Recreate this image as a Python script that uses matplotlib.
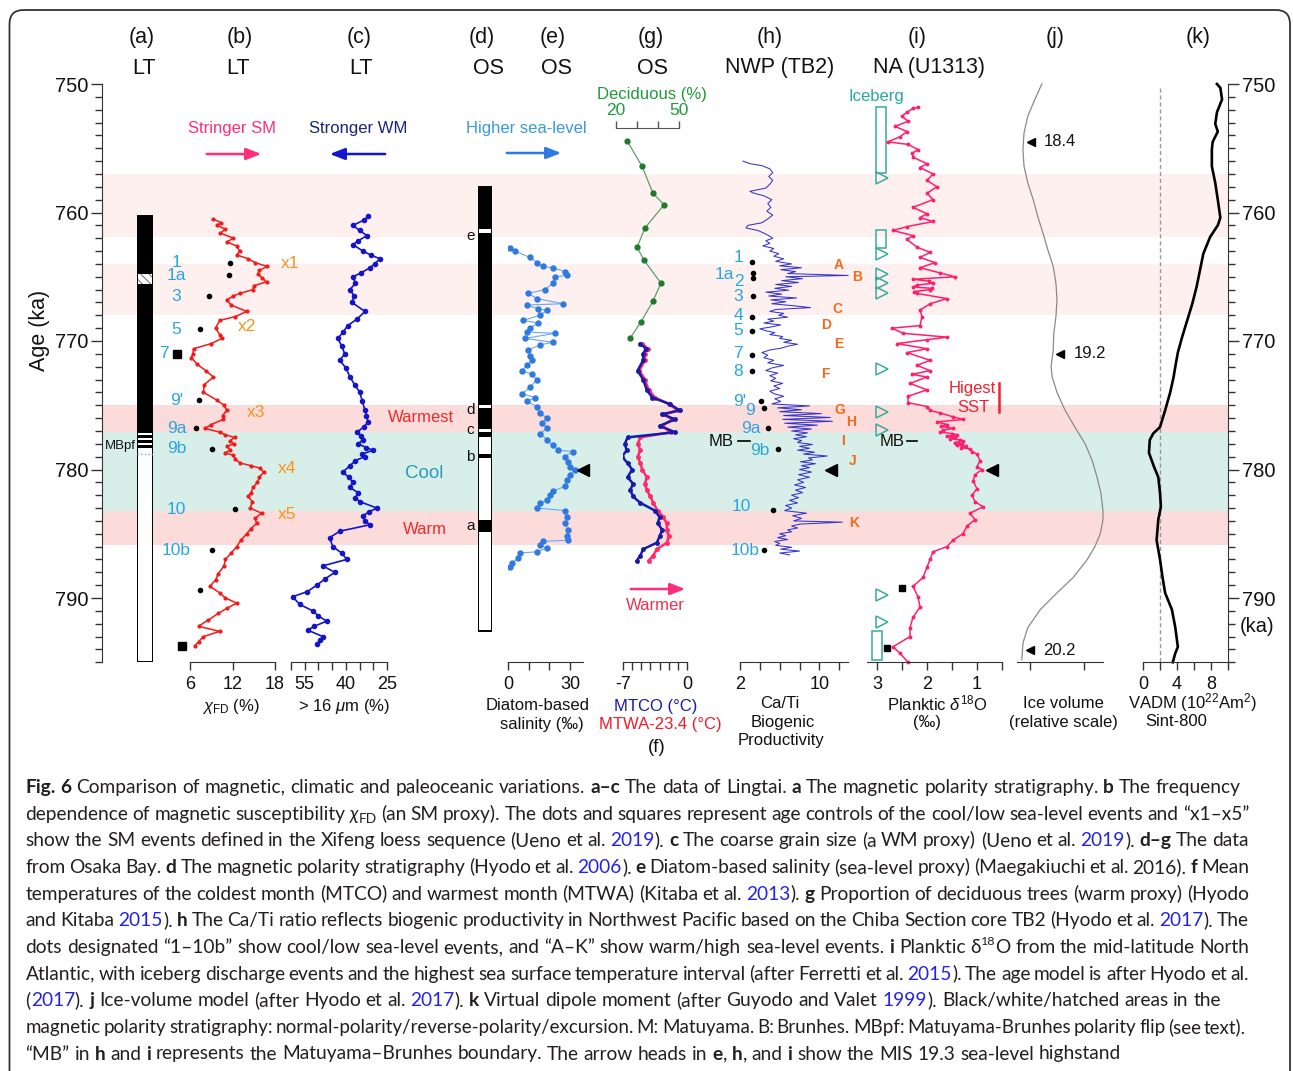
import re
import numpy as np
import matplotlib.pyplot as plt
from matplotlib.patches import FancyBboxPatch, Rectangle

plt.rcParams['font.family'] = ['Liberation Sans', 'DejaVu Sans']
plt.rcParams['mathtext.fontset'] = 'custom'
plt.rcParams['mathtext.rm'] = 'Liberation Sans'
plt.rcParams['mathtext.it'] = 'Liberation Sans:italic'
plt.rcParams['axes.edgecolor'] = '#333333'
plt.rcParams['xtick.color'] = '#333333'
plt.rcParams['ytick.color'] = '#333333'
plt.rcParams['hatch.linewidth'] = 0.6

W, H = 1293, 1071

# ---------------- data (age in ka) ----------------
band_lo = [757.0, 764.0, 775.0, 777.1, 783.2]
band_hi = [761.9, 768.0, 777.1, 783.2, 785.9]
band_col = ['#fdf0ee', '#fdf0ee', '#fcdcdb', '#d7efe8', '#fcdcdb']

# (a) Lingtai polarity column
a_top, a_bot = 760.3, 795.0
a_black = [(760.3, 777.15), (777.3, 777.55), (777.7, 777.95), (778.1, 778.35)]
a_hatch = (764.8, 765.6)

# (b) chi_FD (%)
b_age = [760.5, 760.8, 761.0, 761.3, 761.6, 762.0, 762.3, 762.6, 763.0, 763.3, 763.6, 763.9,
         764.2, 764.5, 764.8, 765.1, 765.4, 765.7, 766.0, 766.3, 766.5, 766.8, 767.2, 767.7,
         768.1, 768.4, 769.0, 769.5, 769.8, 770.2, 770.6, 771.0, 771.3, 771.8, 772.3, 772.8,
         773.4, 774.0, 774.6, 775.0, 775.4, 775.8, 776.1, 776.5, 776.8, 777.1, 777.3, 777.5,
         777.8, 778.0, 778.2, 778.5, 778.7, 778.9, 779.2, 779.5, 779.7, 779.9, 780.2, 780.6,
         781.0, 781.4, 781.8, 782.1, 782.5, 783.0, 783.4, 783.8, 784.2, 784.6, 785.0, 785.5,
         786.0, 786.5, 787.0, 787.5, 788.1, 788.6, 789.1, 789.6, 790.0, 790.4, 790.8, 791.2,
         791.7, 792.2, 792.6, 793.0, 793.4, 793.7]
b_val = [9.3, 10.4, 9.8, 11.0, 10.3, 12.1, 11.2, 12.6, 13.0, 12.6, 14.2, 15.2,
         16.9, 15.8, 15.6, 16.2, 16.8, 15.0, 14.9, 13.0, 12.1, 11.2, 11.8, 14.0,
         12.4, 10.2, 9.6, 10.2, 10.5, 9.0, 6.5, 6.4, 6.2, 7.0, 8.2, 9.3,
         8.0, 7.9, 9.8, 10.8, 11.2, 10.6, 10.7, 9.0, 8.1, 10.2, 11.0, 12.3,
         11.6, 12.2, 11.2, 11.7, 11.0, 12.1, 12.4, 13.1, 14.6, 15.9, 16.4, 15.8,
         15.5, 14.9, 14.6, 14.2, 14.8, 14.5, 16.1, 15.2, 15.4, 14.6, 14.0, 13.2,
         12.6, 11.8, 11.0, 10.8, 10.0, 9.6, 8.8, 10.2, 11.0, 12.6, 11.2, 10.0,
         8.6, 7.2, 10.2, 7.9, 7.2, 6.7]
b_evt_name = ['1', '1a', '3', '5', '7', "9'", '9a', '9b', '10', '10b', '', '']
b_evt_age = [763.9, 764.9, 766.5, 769.1, 771.0, 774.6, 776.8, 778.4, 783.1, 786.3, 789.4, 793.7]
b_evt_x = [11.6, 11.5, 8.7, 7.4, 4.2, 7.3, 6.8, 9.1, 12.4, 9.1, 7.4, 4.9]
b_evt_sq = [False, False, False, False, True, False, False, False, False, False, False, True]
b_sm_name = ['x1', 'x2', 'x3', 'x4', 'x5']
b_sm_age = [764.0, 768.9, 775.6, 779.9, 783.5]

# (c) > 16 um (%)
c_age = [760.3, 760.6, 761.0, 761.4, 761.8, 762.2, 762.5, 763.0, 763.3, 763.6, 764.0, 764.3,
         764.7, 765.0, 765.5, 766.0, 766.5, 767.0, 767.7, 768.3, 768.8, 769.3, 769.8, 770.4,
         771.0, 771.5, 772.1, 772.8, 773.4, 774.0, 774.7, 775.4, 775.8, 776.3, 776.7, 777.1,
         777.4, 777.7, 778.0, 778.3, 778.5, 778.8, 779.0, 779.3, 779.7, 780.2, 780.6, 781.0,
         781.4, 781.8, 782.2, 782.5, 783.0, 783.3, 783.6, 784.0, 784.3, 784.8, 785.3, 786.0,
         786.5, 787.0, 787.5, 788.0, 788.5, 789.0, 789.5, 789.9, 790.5, 791.0, 791.4, 791.8,
         792.2, 792.5, 793.0, 793.3, 793.6]
c_val = [31.9, 33.5, 37.4, 35.0, 32.3, 35.5, 37.4, 33.8, 31.0, 27.6, 29.5, 31.2,
         34.5, 37.4, 36.5, 38.5, 37.0, 37.8, 33.0, 36.0, 39.3, 41.0, 42.9, 41.5,
         40.4, 42.2, 40.0, 38.5, 36.8, 34.9, 34.0, 33.0, 32.5, 31.9, 33.5, 36.0,
         34.5, 33.8, 35.5, 32.5, 30.1, 34.0, 33.0, 36.5, 38.5, 41.1, 39.0, 37.4,
         38.5, 35.6, 36.5, 34.9, 28.7, 31.5, 33.8, 33.0, 31.2, 42.2, 45.9, 44.8,
         41.5, 39.7, 48.4, 44.0, 47.5, 50.6, 54.0, 59.4, 56.8, 52.1, 50.0, 47.0,
         51.5, 53.9, 48.4, 49.5, 50.6]

# (d) Osaka Bay polarity column
d_top, d_bot = 758.0, 792.6
d_black = [(758.0, 761.3), (761.6, 775.0), (775.25, 776.85), (777.1, 777.5),
           (778.8, 779.1), (783.9, 784.9)]
d_lab = ['e', 'd', 'c', 'b', 'a']
d_lab_age = [761.8, 775.4, 776.9, 779.0, 784.4]

# (e) diatom-based salinity
e_age = [762.8, 763.0, 763.5, 763.9, 764.2, 764.3, 764.6, 764.9, 765.0, 765.5, 766.0, 766.3,
         766.7, 767.1, 767.2, 767.5, 767.6, 768.0, 768.4, 768.6, 769.0, 769.3, 769.4, 769.8,
         770.1, 770.3, 770.7, 771.2, 771.5, 771.9, 772.3, 772.6, 773.0, 773.6, 774.1, 774.4,
         774.7, 775.1, 775.6, 776.0, 776.4, 776.8, 777.2, 777.7, 778.1, 778.5, 778.6, 779.0,
         779.4, 779.8, 780.0, 780.4, 780.8, 781.3, 781.7, 782.0, 782.4, 782.6, 783.0, 783.2,
         783.7, 784.2, 784.7, 785.2, 785.5, 785.6, 785.9, 786.1, 786.4, 786.5, 786.9, 787.3,
         787.6]
e_val = [1.0, 3.4, 10.6, 14.0, 16.9, 21.7, 27.5, 28.5, 22.7, 21.7, 17.9, 9.7,
         14.0, 26.6, 9.2, 14.5, 18.8, 15.5, 7.2, 14.5, 10.6, 9.2, 22.7, 8.2,
         21.7, 15.5, 9.7, 10.6, 11.6, 9.2, 6.8, 11.6, 14.0, 10.6, 6.8, 13.0,
         9.2, 14.0, 15.5, 18.8, 16.4, 18.8, 15.5, 18.8, 21.7, 24.2, 31.4, 27.5,
         29.0, 30.0, 32.4, 30.0, 28.5, 27.5, 21.7, 20.3, 18.8, 15.5, 14.0, 27.5,
         28.5, 27.5, 29.0, 28.5, 29.0, 16.9, 15.5, 18.8, 14.0, 5.8, 4.8, 1.9,
         1.0]

# (f) MTCO and MTWA-23.4 (deg C)
f_age = [770.2, 770.6, 771.0, 771.5, 772.3, 773.0, 773.8, 774.4, 774.9, 775.4, 775.7, 776.1,
         776.6, 777.1, 777.5, 778.0, 778.5, 779.0, 779.5, 780.0, 780.6, 781.1, 781.6, 782.1,
         782.6, 783.2, 783.7, 784.2, 784.7, 785.2, 785.7, 786.2, 786.7, 787.1]
f_mtco = [-5.1, -4.5, -4.8, -4.8, -5.4, -4.8, -4.4, -3.8, -1.9, -0.8, -2.7, -1.3,
          -3.0, -1.3, -6.5, -6.8, -6.6, -7.1, -6.5, -6.0, -6.5, -5.9, -6.2, -5.9,
          -5.1, -3.5, -3.0, -3.2, -2.7, -3.0, -3.3, -4.8, -5.1, -5.5]
f_mtwa = [-4.9, -4.3, -4.6, -4.6, -5.2, -4.6, -4.2, -3.5, -2.0, -1.0, -2.5, -1.6,
          -2.7, -1.8, -5.1, -5.4, -5.1, -5.4, -5.1, -4.9, -4.4, -4.6, -4.4, -4.0,
          -3.7, -3.2, -2.6, -2.2, -2.2, -2.0, -2.2, -3.3, -3.7, -4.2]

# (g) deciduous trees (%)
g_age = [754.4, 756.4, 758.5, 759.4, 761.2, 762.7, 763.7, 765.5, 766.9, 768.5, 769.8]
g_val = [25.2, 32.4, 37.6, 42.9, 33.8, 30.0, 33.3, 41.4, 37.6, 31.9, 26.7]

# (h) Ca/Ti
h_age = [756.0, 756.2, 756.35, 756.6, 756.9, 757.2, 757.5, 757.8, 758.1, 758.35, 758.5, 758.7,
         759.0, 759.3, 759.6, 759.9, 760.2, 760.5, 760.8, 761.0, 761.2, 761.4, 761.6, 761.8,
         762.0, 762.2, 762.4, 762.6, 762.8, 763.0, 763.2, 763.4, 763.6, 763.8, 764.0, 764.15,
         764.3, 764.45, 764.6, 764.75, 764.9, 765.0, 765.15, 765.3, 765.45, 765.6, 765.75, 765.9,
         766.05, 766.2, 766.35, 766.5, 766.65, 766.8, 766.95, 767.1, 767.25, 767.4, 767.55, 767.7,
         767.85, 768.0, 768.15, 768.3, 768.45, 768.6, 768.75, 768.9, 769.05, 769.2, 769.35, 769.5,
         769.65, 769.8, 769.95, 770.1, 770.25, 770.4, 770.55, 770.7, 770.9, 771.1, 771.3, 771.5,
         771.7, 771.9, 772.1, 772.3, 772.5, 772.7, 772.9, 773.1, 773.3, 773.5, 773.7, 773.9,
         774.1, 774.3, 774.5, 774.7, 774.9, 775.05, 775.2, 775.35, 775.5, 775.65, 775.8, 775.95,
         776.1, 776.25, 776.4, 776.55, 776.7, 776.85, 777.0, 777.15, 777.3, 777.45, 777.6, 777.75,
         777.9, 778.05, 778.2, 778.35, 778.5, 778.65, 778.8, 778.95, 779.1, 779.25, 779.4, 779.55,
         779.7, 779.85, 780.0, 780.2, 780.4, 780.6, 780.8, 781.0, 781.2, 781.4, 781.6, 781.8,
         782.0, 782.2, 782.4, 782.6, 782.8, 783.0, 783.2, 783.4, 783.6, 783.8, 784.0, 784.1,
         784.25, 784.4, 784.55, 784.7, 784.85, 785.0, 785.15, 785.3, 785.45, 785.6, 785.75, 785.9,
         786.05, 786.2, 786.35, 786.5, 786.65]
h_val = [2.3, 3.0, 4.2, 5.0, 5.3, 4.9, 5.3, 5.0, 4.6, 3.0, 3.4, 4.4,
         5.2, 4.8, 5.1, 4.7, 5.3, 4.8, 4.2, 2.8, 2.6, 3.8, 4.4, 4.9,
         5.3, 4.6, 5.0, 4.3, 5.4, 5.0, 5.9, 5.4, 6.4, 5.6, 7.2, 6.0,
         8.2, 6.1, 7.6, 6.8, 12.9, 6.6, 8.3, 6.2, 7.9, 5.6, 7.2, 5.5,
         6.9, 4.6, 6.2, 4.9, 7.7, 5.1, 6.6, 5.2, 7.3, 9.1, 5.6, 5.0,
         6.4, 5.9, 6.8, 4.8, 5.4, 4.4, 6.1, 5.2, 4.0, 4.6, 5.5, 5.0,
         6.3, 6.0, 7.2, 6.4, 7.8, 6.8, 6.2, 5.0, 4.2, 4.8, 4.4, 5.4,
         4.8, 6.4, 5.2, 4.6, 5.8, 5.0, 5.6, 5.1, 6.3, 5.4, 6.0, 5.0,
         5.4, 6.4, 5.5, 6.1, 5.2, 9.0, 5.8, 8.2, 6.0, 10.2, 6.4, 11.1,
         6.3, 11.3, 6.5, 9.8, 6.8, 9.2, 7.2, 8.8, 7.6, 8.7, 7.4, 8.2,
         7.8, 9.3, 8.0, 9.0, 7.8, 9.5, 8.4, 10.8, 8.9, 9.3, 8.1, 9.6,
         8.2, 9.0, 8.0, 9.2, 7.9, 9.0, 7.8, 8.4, 7.5, 8.6, 7.6, 8.3,
         7.2, 7.9, 7.0, 7.8, 6.6, 7.2, 6.5, 8.7, 7.3, 8.2, 7.4, 12.3,
         8.0, 7.2, 7.8, 6.8, 7.2, 6.0, 6.6, 5.8, 6.8, 5.5, 6.0, 5.6,
         7.2, 6.1, 8.0, 6.0, 7.0]
h_evt_name = ['1', '1a', '2', '3', '4', '5', '7', '8', "9'", '9', '9a', '9b', '10', '10b']
h_evt_age = [763.85, 764.7, 765.1, 766.5, 768.1, 769.2, 771.1, 772.3, 774.7, 775.2, 776.8,
             778.4, 783.15, 786.3]
h_evt_x = [3.2, 3.3, 3.3, 3.3, 3.2, 3.2, 3.2, 3.2, 4.1, 4.4, 4.8, 5.8, 5.3, 4.4]
h_lab_age = [763.5, 764.8, 765.35, 766.5, 768.0, 769.15, 771.0, 772.4, 774.7, 775.4, 776.8,
             778.5, 782.9, 786.3]
h_warm_name = ['A', 'B', 'C', 'D', 'E', 'F', 'G', 'H', 'I', 'J', 'K']
h_warm_age = [764.1, 765.0, 767.5, 768.75, 770.2, 772.6, 775.4, 776.3, 777.8, 779.3, 784.2]

# (i) planktic d18O (permil)
i_age = [751.8, 751.9, 752.2, 752.5, 752.9, 753.3, 753.7, 754.1, 754.5, 754.7, 755.1, 755.4,
         755.7, 756.2, 756.5, 757.0, 757.5, 758.0, 758.5, 759.0, 759.6, 760.1, 760.4, 760.7,
         761.1, 761.4, 761.8, 762.1, 762.7, 763.1, 763.5, 763.9, 764.3, 764.7, 765.0, 765.2,
         765.35, 765.5, 765.65, 765.8, 765.9, 766.0, 766.15, 766.3, 766.7, 767.1, 767.6, 768.1,
         768.8, 769.0, 769.4, 769.7, 769.9, 770.2, 770.6, 770.9, 771.5, 771.9, 772.3, 772.6,
         772.8, 773.3, 773.8, 774.3, 774.8, 775.1, 775.4, 775.6, 775.9, 776.1, 776.3, 776.5,
         776.65, 776.8, 776.95, 777.1, 777.2, 777.3, 777.4, 777.5, 777.6, 777.7, 777.8, 777.9,
         778.0, 778.1, 778.2, 778.3, 778.4, 778.6, 778.8, 779.3, 779.8, 780.0, 780.4, 780.9,
         781.5, 782.0, 782.5, 782.9, 783.4, 783.9, 784.4, 785.0, 785.5, 786.0, 786.4, 787.0,
         787.6, 788.4, 789.1, 789.9, 790.7, 791.5, 792.3, 793.0, 793.8, 794.3, 795.0]
i_val = [2.18, 2.28, 2.40, 2.50, 2.38, 2.64, 2.40, 2.54, 2.78, 2.38, 2.18, 2.30,
         2.28, 2.00, 2.14, 1.88, 2.00, 1.80, 2.00, 1.88, 2.28, 2.00, 2.14, 1.88,
         2.40, 2.68, 2.28, 2.40, 2.20, 1.94, 2.14, 1.84, 2.14, 1.74, 1.44, 2.28,
         1.95, 1.88, 2.20, 2.28, 1.90, 1.94, 2.25, 2.20, 1.60, 1.94, 2.14, 2.10,
         2.14, 2.70, 2.48, 1.60, 2.00, 2.60, 2.00, 2.40, 1.94, 2.20, 1.94, 2.30,
         2.00, 2.34, 2.00, 2.38, 2.38, 2.00, 1.94, 1.74, 1.48, 1.28, 1.80, 1.60,
         1.72, 1.48, 1.68, 1.74, 1.50, 1.40, 1.60, 1.45, 1.54, 1.35, 1.28, 1.45,
         1.30, 1.40, 1.22, 1.32, 1.14, 1.10, 1.00, 0.94, 1.00, 0.90, 1.04, 1.08,
         1.00, 1.10, 1.04, 0.88, 1.14, 1.04, 1.20, 1.28, 1.48, 1.60, 1.88, 1.94,
         2.00, 2.08, 2.28, 2.18, 2.14, 2.28, 2.34, 2.34, 2.68, 2.54, 2.38]
ice_box_top = [751.8, 761.4, 792.6]
ice_box_bot = [756.9, 762.8, 794.8]
ice_tri_age = [757.3, 763.2, 764.8, 765.5, 766.3, 772.2, 775.5, 776.9, 789.8, 791.9]
i_sq_age = [789.2, 793.9]
i_sq_x = [2.5, 2.8]
sst_top, sst_bot = 773.3, 775.5

# (j) ice volume (relative)
j_age = [750.0, 751.2, 752.5, 753.8, 755.1, 756.4, 757.7, 759.0, 760.4, 761.6, 762.9, 764.2,
         765.5, 766.8, 768.1, 769.4, 770.7, 772.0, 772.8, 774.0, 775.4, 776.7, 778.0, 779.3,
         780.6, 781.8, 783.2, 783.9, 785.0, 786.0, 787.0, 788.4, 789.6, 790.9, 792.3, 793.5,
         794.8]
j_val = [0.22, 0.09, -0.04, -0.11, -0.13, -0.11, -0.04, 0.06, 0.15, 0.24, 0.33, 0.43,
         0.48, 0.50, 0.48, 0.44, 0.43, 0.39, 0.41, 0.50, 0.65, 0.83, 1.02, 1.15,
         1.24, 1.31, 1.35, 1.35, 1.30, 1.20, 1.06, 0.80, 0.50, 0.19, -0.04, -0.13,
         -0.15]
j_mark_age = [754.5, 771.0, 794.05]
j_mark_x = [0.02, 0.56, 0.0]
j_mark_txt = ['18.4', '19.2', '20.2']

# (k) VADM Sint-800
k_age = [750.0, 750.3, 751.2, 752.2, 753.1, 753.7, 754.5, 755.1, 756.4, 757.7, 759.0, 760.4,
         761.0, 761.9, 763.2, 764.5, 765.8, 767.1, 768.4, 769.7, 770.9, 772.0, 772.8, 774.0,
         775.4, 776.7, 777.2, 777.7, 778.7, 779.8, 780.6, 781.8, 782.9, 783.9, 785.5, 787.0,
         788.4, 789.6, 790.9, 792.3, 793.8, 794.3, 795.0]
k_val = [8.7, 9.1, 9.3, 8.7, 8.5, 8.8, 8.2, 8.1, 8.1, 8.5, 8.8, 9.1,
         8.8, 7.9, 7.1, 6.7, 6.3, 5.8, 5.2, 4.6, 4.1, 3.8, 3.6, 3.2,
         2.6, 2.0, 1.2, 0.8, 0.7, 1.3, 1.8, 2.0, 2.1, 1.8, 1.6, 2.0,
         2.3, 2.6, 3.4, 3.8, 4.1, 3.8, 3.5]
k_ref = 2.0

# ---------------- layout helpers ----------------
fig = plt.figure(figsize=(W / 100, H / 100), dpi=100)


def rect(x0, x1, y0=84, y1=662.25):
    return [x0 / W, 1 - y1 / H, (x1 - x0) / W, (y1 - y0) / H]


def panel(x0, x1, xlim, ticks=None, labels=None):
    ax = fig.add_axes(rect(x0, x1))
    ax.patch.set_visible(False)
    ax.set_xlim(*xlim)
    ax.set_ylim(795, 750)
    ax.set_yticks([])
    for s in ['top', 'left', 'right']:
        ax.spines[s].set_visible(False)
    if ticks is None:
        ax.spines['bottom'].set_visible(False)
        ax.set_xticks([])
    else:
        ax.set_xticks(ticks)
        ax.set_xticklabels(labels)
        ax.tick_params(axis='x', direction='out', length=6, width=1, labelsize=13,
                       pad=4, labelcolor='#111111')
    return ax


# background age axis and bands
bg = fig.add_axes(rect(102, 1228))
bg.set_xlim(0, 1)
bg.set_ylim(795, 750)
bg.set_xticks([])
for s in ['top', 'bottom']:
    bg.spines[s].set_visible(False)
bg.set_yticks(np.arange(750, 791, 10))
bg.set_yticks(np.arange(750, 796, 1), minor=True)
bg.tick_params(axis='y', which='both', left=True, right=True, labelleft=True,
               labelright=True, direction='out', width=1)
bg.tick_params(axis='y', which='major', length=8, labelsize=14.5, pad=2, labelcolor='#111111')
bg.tick_params(axis='y', which='minor', length=5)
for lo, hi, c in zip(band_lo, band_hi, band_col):
    bg.axhspan(lo, hi, color=c, lw=0, zorder=0)

BLUE_N = '#29a6e0'
ORANGE = '#f7941d'

# (a)
axa = panel(137, 153, (0, 1))
axa.bar(0.5, a_bot - a_top, bottom=a_top, width=1, color='white', lw=0)
for t, b in a_black:
    axa.bar(0.5, b - t, bottom=t, width=1, color='black', lw=0)
axa.bar(0.5, a_hatch[1] - a_hatch[0], bottom=a_hatch[0], width=1, color='white',
        edgecolor='#555555', hatch='\\\\\\\\', lw=0)
axa.plot([0, 1], [778.8, 778.8], color='#999999', lw=1, ls=':')
axa.bar(0.5, a_bot - a_top, bottom=a_top, width=1, facecolor='none', edgecolor='black',
        lw=1.4)

# (b)
axb = panel(190, 275, (6, 18), [6, 12, 18], ['6', '12', '18'])
axb.plot(b_val, b_age, color='#f21a1a', lw=1.1, marker='o', ms=2.0, clip_on=False)
for nm, ag, xv, sq in zip(b_evt_name, b_evt_age, b_evt_x, b_evt_sq):
    axb.plot(xv, ag, marker='s' if sq else 'o', ms=6 if sq else 3, color='black',
             ls='none', clip_on=False)
for nm, ag in zip(b_evt_name, b_evt_age):
    if nm:
        xl = 2.3 if nm == '7' else 4.1
        axb.text(xl, ag, nm, color=BLUE_N, fontsize=12.5, ha='center', va='center')
for nm, ag, xv in zip(b_sm_name, b_sm_age, [20.1, 14.05, 15.3, 19.7, 19.7]):
    axb.text(xv, ag, nm, color=ORANGE, fontsize=12.5, ha='center', va='center')

# (c)
axc = panel(291, 387, (60, 25), [60, 55, 50, 45, 40, 35, 30, 25],
            ['', '55', '', '', '40', '', '', '25'])
axc.plot(c_val, c_age, color='#1414c8', lw=1.2, marker='o', ms=3, clip_on=False)

# (d)
axd = panel(478, 492, (0, 1))
axd.bar(0.5, d_bot - d_top, bottom=d_top, width=1, color='white', lw=0)
for t, b in d_black:
    axd.bar(0.5, b - t, bottom=t, width=1, color='black', lw=0)
axd.bar(0.5, d_bot - d_top, bottom=d_top, width=1, facecolor='none', edgecolor='black',
        lw=1.4)
for nm, ag in zip(d_lab, d_lab_age):
    axd.text(-0.55, ag, nm, fontsize=11, ha='center', va='center', color='#111111')

# (e)
axe = panel(508, 583, (0, 36.2), [0, 10, 20, 30], ['0', '', '', '30'])
axe.plot(e_val, e_age, color='#6aa6f0', lw=0.8)
axe.plot(e_val, e_age, color='#2f7ae0', ls='none', marker='o', ms=3.6)
axe.plot(36.2, 780.0, marker='<', color='black', ms=8, clip_on=False)

# (f)
axf = panel(623, 687, (-7, 0), list(range(-7, 1)), ['-7', '', '', '', '', '', '', '0'])
axf.plot(f_mtwa, f_age, color='#ff2a6a', lw=1.8, marker='o', ms=2.5)
axf.plot(f_mtco, f_age, color='#1a1aaa', lw=1.8, marker='o', ms=2.5)

# (g)
axg = fig.add_axes(rect(616, 679))
axg.patch.set_visible(False)
axg.set_xlim(20, 50)
axg.set_ylim(795, 750)
axg.set_yticks([])
for s in ['bottom', 'left', 'right']:
    axg.spines[s].set_visible(False)
axg.spines['top'].set_position(('data', 753.42))
axg.spines['top'].set_color('#555555')
axg.xaxis.set_ticks_position('top')
axg.set_xticks([20, 30, 40, 50])
axg.set_xticklabels(['20', '', '', '50'])
axg.tick_params(axis='x', direction='out', length=5, width=1, labelsize=12.5, pad=2,
                labelcolor='#1e9a3a', color='#555555')
axg.plot(g_val, g_age, color='#5e9e6e', lw=0.9)
axg.plot(g_val, g_age, color='#1e7a2e', ls='none', marker='o', ms=3.5)

# (h)
axh = panel(740, 848, (2, 12.88), [2, 4, 6, 8, 10, 12], ['2', '', '', '', '10', ''])
axh.plot(h_val, h_age, color='#3535cc', lw=0.75, clip_on=False)
axh.plot(h_evt_x, h_evt_age, 'o', color='black', ms=3)
h_lab_x = [1.8, 0.4, 1.9, 1.8, 1.8, 1.8, 1.8, 1.8, 2.0, 3.0, 3.1, 4.0, 2.1, 2.5]
for nm, ag, xl in zip(h_evt_name, h_lab_age, h_lab_x):
    axh.text(xl, ag, nm, color=BLUE_N, fontsize=12.5, ha='center', va='center')
h_warm_x = [11.9, 13.8, 11.8, 10.7, 11.9, 10.6, 12.1, 13.2, 12.4, 13.3, 13.5]
for nm, ag, xl in zip(h_warm_name, h_warm_age, h_warm_x):
    axh.text(xl, ag, nm, color='#f26b1d', fontsize=10, fontweight='bold', ha='center',
             va='center', clip_on=False)
axh.plot(11.16, 780.0, marker='<', color='black', ms=8)
axh.text(0.1, 777.8, 'MB', fontsize=12, ha='center', va='center', color='#111111')
axh.plot([1.8, 3.0], [777.8, 777.8], color='black', lw=1.2, clip_on=False)

# (i)
axi = panel(867, 1002, (3.2, 0.5), [3, 2.5, 2, 1.5, 1, 0.5], ['3', '', '2', '', '1', ''])
axi.plot(i_val, i_age, color='#ff1f6e', lw=1.1, marker='o', ms=1.8, clip_on=False)
for t, b in zip(ice_box_top, ice_box_bot):
    x0 = 3.02 if t < 790 else 3.1
    axi.add_patch(Rectangle((x0, t), -0.2, b - t, facecolor='none', edgecolor='#3aaa9c',
                            lw=1.1, clip_on=False))
axi.plot([2.9] * len(ice_tri_age), ice_tri_age, ls='none', marker='>', ms=8,
         mfc='none', mec='#3aaa9c', mew=1.1, clip_on=False)
axi.plot(i_sq_x, i_sq_age, 's', color='black', ms=5)
axi.plot(0.7, 780.0, marker='<', color='black', ms=8)
axi.plot([0.56, 0.56], [sst_top, sst_bot], color='#f02030', lw=1.8, clip_on=False)
axi.text(2.7, 777.8, 'MB', fontsize=12, ha='center', va='center', color='#111111')
axi.plot([2.4, 2.2], [777.8, 777.8], color='black', lw=1.2)

# (j)
axj = panel(1017, 1103, (-0.24, 1.35), [0, 1], ['', ''])
axj.plot(j_val, j_age, color='#8a8a8a', lw=0.9, clip_on=False)
for ag, xv, tx in zip(j_mark_age, j_mark_x, j_mark_txt):
    axj.plot(xv, ag, marker='<', color='black', ms=6)
    axj.text(xv + 0.24, ag, tx, fontsize=12, va='center', ha='left', color='#111111')

# (k)
axk = panel(1143, 1228, (0, 10), [0, 2, 4, 6, 8, 10], ['0', '', '4', '', '8', ''])
axk.plot([k_ref, k_ref], [750.3, 795], color='#999999', lw=1, ls=(0, (3, 2)))
axk.plot(k_val, k_age, color='black', lw=1.9, clip_on=False)

# ---------------- canvas: texts, arrows, border, caption ----------------
cv = fig.add_axes([0, 0, 1, 1])
cv.set_xlim(0, W)
cv.set_ylim(H, 0)
cv.axis('off')

cv.add_patch(FancyBboxPatch((9.5, 10), 1280.5, 1150, boxstyle='round,pad=0,rounding_size=14',
                            facecolor='none', edgecolor='#333333', lw=1.3))

heads = [('(a)', 142, 'LT', 144), ('(b)', 240, 'LT', 238), ('(c)', 359, 'LT', 361),
         ('(d)', 482, 'OS', 488), ('(e)', 553, 'OS', 556), ('(g)', 651, 'OS', 652),
         ('(h)', 770, 'NWP (TB2)', 780), ('(i)', 917, 'NA (U1313)', 929),
         ('(j)', 1055, '', 0), ('(k)', 1198, '', 0)]
for a, xa, b, xb in heads:
    cv.text(xa, 38, a, fontsize=15.5, ha='center', va='center', color='#111111')
    if b:
        cv.text(xb, 68, b, fontsize=15.5, ha='center', va='center', color='#111111')

cv.text(40, 330, 'Age (ka)', fontsize=15.5, rotation=90, ha='center', va='center',
        color='#111111')
cv.text(1240, 626, '(ka)', fontsize=14.5, ha='left', va='center', color='#111111')
cv.text(120, 446, 'MBpf', fontsize=9.5, ha='center', va='center', color='#111111')

cv.text(232, 129, 'Stringer SM', fontsize=12, ha='center', va='center', color='#ff2d7a')
cv.annotate('', xy=(264, 154), xytext=(204, 154),
            arrowprops=dict(arrowstyle='-|>,head_length=0.9,head_width=0.35', color='#ff2d7a',
                            lw=1.8))
cv.text(358, 129, 'Stronger WM', fontsize=12, ha='center', va='center', color='#1a237e')
cv.annotate('', xy=(327, 154), xytext=(388, 154),
            arrowprops=dict(arrowstyle='-|>,head_length=0.9,head_width=0.35', color='#1515d0',
                            lw=1.8))
cv.text(526, 128, 'Higher sea-level', fontsize=12, ha='center', va='center', color='#3a9ad9')
cv.annotate('', xy=(564, 153), xytext=(504, 153),
            arrowprops=dict(arrowstyle='-|>,head_length=0.9,head_width=0.35', color='#2f7ae0',
                            lw=1.8))
cv.text(652, 94, 'Deciduous (%)', fontsize=12, ha='center', va='center', color='#1e9a3a')
cv.text(876, 96, 'Iceberg', fontsize=12, ha='center', va='center', color='#2aa6a0')
cv.annotate('', xy=(688, 589), xytext=(628, 589),
            arrowprops=dict(arrowstyle='-|>,head_length=0.9,head_width=0.35', color='#ff2d7a',
                            lw=1.8))
cv.text(655, 605, 'Warmer', fontsize=12, ha='center', va='center', color='#f0304a')
cv.text(972, 388, 'Higest', fontsize=12, ha='center', va='center', color='#f02030')
cv.text(973, 407, 'SST', fontsize=12, ha='center', va='center', color='#f02030')
cv.text(421, 418, 'Warmest', fontsize=12, ha='center', va='center', color='#ee2a2a')
cv.text(424, 473, 'Cool', fontsize=13.5, ha='center', va='center', color='#2a9ac0')
cv.text(425, 529, 'Warm', fontsize=12, ha='center', va='center', color='#ee2a2a')

bl = dict(fontsize=12, ha='center', va='center', color='#111111')
cv.text(231, 706, r'$\chi_{\rm FD}$ (%)', **bl)
cv.text(344, 706, r'> 16 $\mu$m (%)', **bl)
cv.text(538, 706, 'Diatom-based', **bl)
cv.text(542, 725, 'salinity (‰)', **bl)
cv.text(656, 706, 'MTCO (°C)', fontsize=12, ha='center', va='center', color='#1a1aaa')
cv.text(660, 725, 'MTWA-23.4 (°C)', fontsize=12, ha='center', va='center', color='#f01a2a')
cv.text(657, 748, '(f)', fontsize=13.5, ha='center', va='center', color='#111111')
cv.text(780, 703, 'Ca/Ti', **bl)
cv.text(783, 722, 'Biogenic', **bl)
cv.text(781, 741, 'Productivity', **bl)
cv.text(937, 703, r'Planktic $\delta^{18}$O', **bl)
cv.text(927, 722, '(‰)', **bl)
cv.text(1063, 703, 'Ice volume', **bl)
cv.text(1063, 722, '(relative scale)', **bl)
cv.text(1192, 703, r'VADM (10$^{22}$Am$^{2}$)', **bl)
cv.text(1176, 722, 'Sint-800', **bl)

# caption
cap_lines = [
    [('Fig. 6', 'b'), (' Comparison of magnetic, climatic and paleoceanic variations. ', 'n'),
     ('a–c', 'b'), (' The data of Lingtai. ', 'n'), ('a', 'b'),
     (' The magnetic polarity stratigraphy. ', 'n'), ('b', 'b'), (' The frequency', 'n')],
    [('dependence of magnetic susceptibility ', 'n'), ('χ', 'i'), ('FD', 'sub'),
     (' (an SM proxy). The dots and squares represent age controls of the cool/low sea-level events and “x1–x5”', 'n')],
    [('show the SM events defined in the Xifeng loess sequence (Ueno et al. ', 'n'), ('2019', 'l'),
     ('). ', 'n'), ('c', 'b'), (' The coarse grain size (a WM proxy) (Ueno et al. ', 'n'),
     ('2019', 'l'), ('). ', 'n'), ('d–g', 'b'), (' The data', 'n')],
    [('from Osaka Bay. ', 'n'), ('d', 'b'), (' The magnetic polarity stratigraphy (Hyodo et al. ', 'n'),
     ('2006', 'l'), ('). ', 'n'), ('e', 'b'),
     (' Diatom-based salinity (sea-level proxy) (Maegakiuchi et al. 2016). ', 'n'), ('f', 'b'),
     (' Mean', 'n')],
    [('temperatures of the coldest month (MTCO) and warmest month (MTWA) (Kitaba et al. ', 'n'),
     ('2013', 'l'), ('). ', 'n'), ('g', 'b'), (' Proportion of deciduous trees (warm proxy) (Hyodo', 'n')],
    [('and Kitaba ', 'n'), ('2015', 'l'), ('). ', 'n'), ('h', 'b'),
     (' The Ca/Ti ratio reflects biogenic productivity in Northwest Pacific based on the Chiba Section core TB2 (Hyodo et al. ', 'n'),
     ('2017', 'l'), ('). The', 'n')],
    [('dots designated “1–10b” show cool/low sea-level events, and “A–K” show warm/high sea-level events. ', 'n'),
     ('i', 'b'), (' Planktic δ', 'n'), ('18', 'sup'), ('O from the mid-latitude North', 'n')],
    [('Atlantic, with iceberg discharge events and the highest sea surface temperature interval (after Ferretti et al. ', 'n'),
     ('2015', 'l'), ('). The age model is after Hyodo et al.', 'n')],
    [('(', 'n'), ('2017', 'l'), ('). ', 'n'), ('j', 'b'), (' Ice-volume model (after Hyodo et al. ', 'n'),
     ('2017', 'l'), ('). ', 'n'), ('k', 'b'), (' Virtual dipole moment (after Guyodo and Valet ', 'n'),
     ('1999', 'l'), ('). Black/white/hatched areas in the', 'n')],
    [('magnetic polarity stratigraphy: normal-polarity/reverse-polarity/excursion. M: Matuyama. B: Brunhes. MBpf: Matuyama-Brunhes polarity flip (see text).', 'n')],
    [('“MB” in ', 'n'), ('h', 'b'), (' and ', 'n'), ('i', 'b'),
     (' represents the Matuyama–Brunhes boundary. The arrow heads in ', 'n'), ('e', 'b'), (', ', 'n'),
     ('h', 'b'), (', and ', 'n'), ('i', 'b'), (' show the MIS 19.3 sea-level highstand', 'n')],
]

rend = fig.canvas.get_renderer()
CAP_FONT = ['Lato', 'DejaVu Sans']


def run_style(st, size):
    kw = dict(fontsize=size, family=CAP_FONT, color='#231f20')
    dy = 0
    if st == 'b':
        kw['fontweight'] = 'bold'
    elif st == 'l':
        kw['color'] = '#2323e6'
    elif st == 'i':
        kw['fontstyle'] = 'italic'
    elif st == 'sup':
        kw['fontsize'] = size * 0.65
        dy = -size * 0.55
    elif st == 'sub':
        kw['fontsize'] = size * 0.72
        dy = size * 0.25
    return kw, dy


def text_w(s, kw):
    t = cv.text(0, 0, s, **kw)
    w = t.get_window_extent(rend).width
    t.remove()
    return w


def run_w(s, kw):
    return text_w('|' + s + '|', kw) - text_w('||', kw)


def tokens(runs, size):
    out = []
    for s, st in runs:
        kw, dy = run_style(st, size)
        for tok in re.split(r'( )', s):
            if tok:
                out.append((tok, kw, dy, tok == ' ', run_w(tok, kw)))
    return out


def widths(toks, sfac):
    return sum(w * (sfac if sp else 1.0) for _, _, _, sp, w in toks)


X0 = 25.5
LIMIT = 1249 - X0
base = 14.0
common = base * (1243 - X0) / widths(tokens(cap_lines[0], base), 1.0)
y = 793.0
for runs in cap_lines:
    size = common
    toks = tokens(runs, size)
    sfac = 1.0
    natural = widths(toks, 1.0)
    if natural > LIMIT:
        space_tot = sum(w for _, _, _, sp, w in toks if sp)
        sfac = max(0.6, 1.0 - (natural - LIMIT) / space_tot)
        tight = widths(toks, sfac)
        if tight > LIMIT:
            size = common * LIMIT / tight
            toks = tokens(runs, size)
    x = X0
    for tok, kw, dy, sp, w in toks:
        if sp:
            x += w * sfac
            continue
        cv.text(x, y + dy, tok, va='baseline', ha='left', **kw)
        x += w
    y += 26.65

fig.savefig('out.png', dpi=100)
